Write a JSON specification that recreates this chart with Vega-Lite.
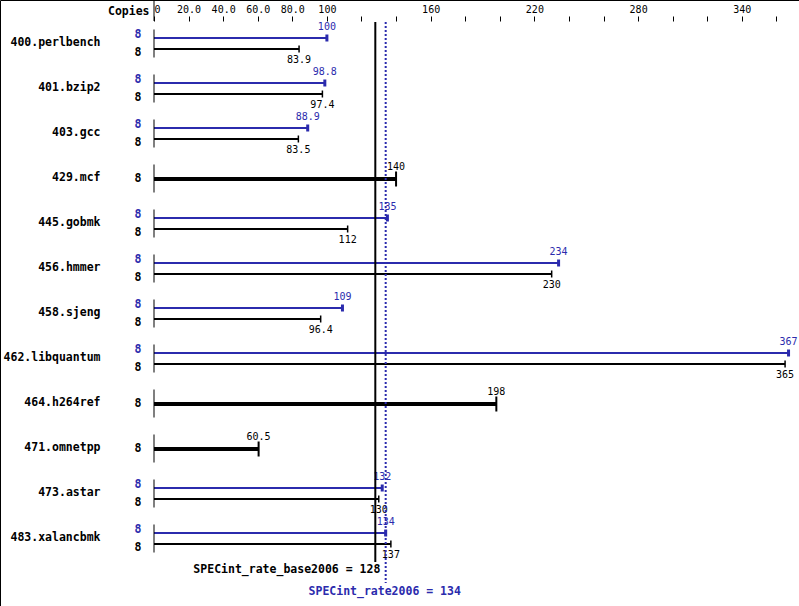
{
  "$schema": "https://vega.github.io/schema/vega-lite/v6.json",
  "width": 799,
  "height": 606,
  "autosize": "none",
  "padding": 0,
  "background": "white",
  "config": {
    "view": {"stroke": "black", "strokeWidth": 1},
    "font": "DejaVu Sans Mono",
    "axis": {"labelOverlap": false, "labelSeparation": -40},
    "axisX": {"labelOverlap": false, "labelSeparation": -40}
  },
  "datasets": {
    "bench": [
      {"bench": "400.perlbench", "base": 83.9, "peak": 100, "single": false, "baseCopies": 8, "peakCopies": 8},
      {"bench": "401.bzip2", "base": 97.4, "peak": 98.8, "single": false, "baseCopies": 8, "peakCopies": 8},
      {"bench": "403.gcc", "base": 83.5, "peak": 88.9, "single": false, "baseCopies": 8, "peakCopies": 8},
      {"bench": "429.mcf", "base": 140, "peak": null, "single": true, "baseCopies": 8, "peakCopies": null},
      {"bench": "445.gobmk", "base": 112, "peak": 135, "single": false, "baseCopies": 8, "peakCopies": 8},
      {"bench": "456.hmmer", "base": 230, "peak": 234, "single": false, "baseCopies": 8, "peakCopies": 8},
      {"bench": "458.sjeng", "base": 96.4, "peak": 109, "single": false, "baseCopies": 8, "peakCopies": 8},
      {"bench": "462.libquantum", "base": 365, "peak": 367, "single": false, "baseCopies": 8, "peakCopies": 8},
      {"bench": "464.h264ref", "base": 198, "peak": null, "single": true, "baseCopies": 8, "peakCopies": null},
      {"bench": "471.omnetpp", "base": 60.5, "peak": null, "single": true, "baseCopies": 8, "peakCopies": null},
      {"bench": "473.astar", "base": 130, "peak": 132, "single": false, "baseCopies": 8, "peakCopies": 8},
      {"bench": "483.xalancbmk", "base": 137, "peak": 134, "single": false, "baseCopies": 8, "peakCopies": 8}
    ],
    "summary": [
      {"metric": "SPECint_rate_base2006", "value": 128, "kind": "base", "top": "400.perlbench", "bottom": "483.xalancbmk"},
      {"metric": "SPECint_rate2006", "value": 134, "kind": "peak", "top": "400.perlbench", "bottom": "483.xalancbmk"}
    ],
    "separator": [
      {"value": 0, "top": "400.perlbench"}
    ]
  },
  "encoding": {
    "y": {
      "field": "bench",
      "type": "nominal",
      "scale": {
        "type": "band",
        "domain": ["400.perlbench", "401.bzip2", "403.gcc", "429.mcf", "445.gobmk", "456.hmmer", "458.sjeng", "462.libquantum", "464.h264ref", "471.omnetpp", "473.astar", "483.xalancbmk"],
        "paddingInner": 0,
        "paddingOuter": 0.73333,
        "align": 0.3106
      },
      "axis": {
        "orient": "left",
        "title": null,
        "ticks": false,
        "domain": false,
        "offset": -100,
        "labelPadding": 0,
        "labelAlign": "right",
        "labelBaseline": "middle",
        "labelFont": "DejaVu Sans Mono",
        "labelFontSize": 11.5,
        "labelFontWeight": "bold",
        "labelColor": "black"
      }
    }
  },
  "layer": [
    {
      "data": {"name": "bench"},
      "transform": [{"filter": "!datum.single"}],
      "mark": {"type": "rule", "color": "#2b2bad", "strokeWidth": 2, "yOffset": -5},
      "encoding": {
        "x": {
          "field": "peak",
          "type": "quantitative",
          "scale": {"domain": [-89.07, 373.05], "nice": false, "zero": false},
          "axis": {
            "orient": "top",
            "offset": -21,
            "domain": false,
            "grid": false,
            "title": "Copies",
            "titleFont": "DejaVu Sans Mono",
            "titleFontSize": 11.5,
            "titleFontWeight": "bold",
            "titleColor": "black",
            "titleAlign": "right",
            "titleBaseline": "alphabetic",
            "titleX": 149,
            "titleY": -7,
            "titleAngle": 0,
            "values": [0,5,10,15,20,25,30,35,40,45,50,55,60,65,70,75,80,85,90,95,100,105,110,115,120,125,130,135,140,145,150,155,160,165,170,175,180,185,190,195,200,205,210,215,220,225,230,235,240,245,250,255,260,265,270,275,280,285,290,295,300,305,310,315,320,325,330,335,340,345,350,355,360,365,370],
            "labelExpr": "datum.value == 0 ? '0' : (datum.value < 100 ? (datum.value % 20 == 0 ? format(datum.value, '.1f') : '') : (((datum.value - 100) % 15 == 0 && datum.value != 355) ? format(datum.value, 'd') : ''))",
            "labelFont": "DejaVu Sans Mono",
            "labelFontSize": 10,
            "labelColor": "black",
            "labelAlign": {"condition": [{"test": "datum.value == 0", "value": "left"}, {"test": "datum.value == 370", "value": "right"}], "value": "center"},
            "labelBaseline": "alphabetic",
            "labelOverlap": false,
            "labelSeparation": -40,
            "labelFlush": false,
            "labelBound": false,
            "tickColor": "black",
            "tickWidth": 1,
            "tickSize": 5,
            "labelPadding": 4
          }
        },
        "x2": {"datum": 0}
      }
    },
    {
      "data": {"name": "separator"},
      "mark": {"type": "rule", "color": "black", "strokeWidth": 1, "yOffset": -44, "y2Offset": -22},
      "encoding": {"x": {"field": "value", "type": "quantitative"}, "y": {"field": "top", "type": "nominal"}, "y2": {"field": "top"}}
    },
    {
      "data": {"name": "bench"},
      "transform": [{"filter": "!datum.single"}],
      "mark": {"type": "rule", "color": "black", "strokeWidth": 2, "yOffset": 6},
      "encoding": {"x": {"field": "base", "type": "quantitative"}, "x2": {"datum": 0}}
    },
    {
      "data": {"name": "bench"},
      "transform": [{"filter": "datum.single"}],
      "mark": {"type": "rule", "color": "black", "strokeWidth": 4, "yOffset": 1},
      "encoding": {"x": {"field": "base", "type": "quantitative"}, "x2": {"datum": 0}}
    },
    {
      "data": {"name": "bench"},
      "mark": {"type": "tick", "orient": "vertical", "color": "black", "size": 28, "thickness": 1, "yOffset": 0.5, "opacity": 1},
      "encoding": {"x": {"datum": 0, "type": "quantitative"}}
    },
    {
      "data": {"name": "bench"},
      "transform": [{"filter": "!datum.single"}],
      "mark": {"type": "tick", "orient": "vertical", "color": "#2b2bad", "size": 7, "thickness": 3, "yOffset": -5, "opacity": 1},
      "encoding": {"x": {"field": "peak", "type": "quantitative"}}
    },
    {
      "data": {"name": "bench"},
      "transform": [{"filter": "!datum.single"}],
      "mark": {"type": "tick", "orient": "vertical", "color": "black", "size": 7, "thickness": 1.5, "yOffset": 6, "opacity": 1},
      "encoding": {"x": {"field": "base", "type": "quantitative"}}
    },
    {
      "data": {"name": "bench"},
      "transform": [{"filter": "datum.single"}],
      "mark": {"type": "tick", "orient": "vertical", "color": "black", "size": 15, "thickness": 2, "yOffset": 1, "opacity": 1},
      "encoding": {"x": {"field": "base", "type": "quantitative"}}
    },
    {
      "data": {"name": "bench"},
      "transform": [{"filter": "!datum.single"}],
      "mark": {"type": "text", "color": "#2b2bad", "fontSize": 10, "font": "DejaVu Sans Mono", "align": "center", "baseline": "middle", "yOffset": -16},
      "encoding": {"x": {"field": "peak", "type": "quantitative"}, "text": {"field": "peak", "type": "quantitative"}}
    },
    {
      "data": {"name": "bench"},
      "transform": [{"filter": "!datum.single"}],
      "mark": {"type": "text", "color": "black", "fontSize": 10, "font": "DejaVu Sans Mono", "align": "center", "baseline": "middle", "yOffset": 17},
      "encoding": {"x": {"field": "base", "type": "quantitative"}, "text": {"field": "base", "type": "quantitative"}}
    },
    {
      "data": {"name": "bench"},
      "transform": [{"filter": "datum.single"}],
      "mark": {"type": "text", "color": "black", "fontSize": 10, "font": "DejaVu Sans Mono", "align": "center", "baseline": "middle", "yOffset": -10.5},
      "encoding": {"x": {"field": "base", "type": "quantitative"}, "text": {"field": "base", "type": "quantitative"}}
    },
    {
      "data": {"name": "bench"},
      "transform": [{"filter": "!datum.single"}],
      "mark": {"type": "text", "color": "#2b2bad", "fontSize": 11.5, "fontWeight": "bold", "font": "DejaVu Sans Mono", "align": "center", "baseline": "middle", "dx": -16, "yOffset": -8},
      "encoding": {"x": {"datum": 0, "type": "quantitative"}, "text": {"field": "peakCopies", "type": "quantitative"}}
    },
    {
      "data": {"name": "bench"},
      "transform": [{"filter": "!datum.single"}],
      "mark": {"type": "text", "color": "black", "fontSize": 11.5, "fontWeight": "bold", "font": "DejaVu Sans Mono", "align": "center", "baseline": "middle", "dx": -16, "yOffset": 10},
      "encoding": {"x": {"datum": 0, "type": "quantitative"}, "text": {"field": "baseCopies", "type": "quantitative"}}
    },
    {
      "data": {"name": "bench"},
      "transform": [{"filter": "datum.single"}],
      "mark": {"type": "text", "color": "black", "fontSize": 11.5, "fontWeight": "bold", "font": "DejaVu Sans Mono", "align": "center", "baseline": "middle", "dx": -16, "yOffset": 1},
      "encoding": {"x": {"datum": 0, "type": "quantitative"}, "text": {"field": "baseCopies", "type": "quantitative"}}
    },
    {
      "data": {"name": "summary"},
      "transform": [{"filter": "datum.kind == 'base'"}],
      "mark": {"type": "rule", "color": "black", "strokeWidth": 2, "yOffset": -21, "y2Offset": 24},
      "encoding": {"x": {"field": "value", "type": "quantitative"}, "y": {"field": "top", "type": "nominal"}, "y2": {"field": "bottom"}}
    },
    {
      "data": {"name": "summary"},
      "transform": [{"filter": "datum.kind == 'peak'"}],
      "mark": {"type": "rule", "color": "#2b2bad", "strokeWidth": 2, "strokeDash": [2, 2], "yOffset": -21, "y2Offset": 45},
      "encoding": {"x": {"field": "value", "type": "quantitative"}, "y": {"field": "top", "type": "nominal"}, "y2": {"field": "bottom"}}
    },
    {
      "data": {"name": "summary"},
      "transform": [{"filter": "datum.kind == 'base'"}, {"calculate": "datum.metric + ' = ' + datum.value", "as": "label"}],
      "mark": {"type": "text", "color": "black", "fontSize": 11.5, "fontWeight": "bold", "font": "DejaVu Sans Mono", "align": "right", "baseline": "middle", "dx": 5, "yOffset": 32},
      "encoding": {"x": {"field": "value", "type": "quantitative"}, "y": {"field": "bottom", "type": "nominal"}, "text": {"field": "label", "type": "nominal"}}
    },
    {
      "data": {"name": "summary"},
      "transform": [{"filter": "datum.kind == 'peak'"}, {"calculate": "datum.metric + ' = ' + datum.value", "as": "label"}],
      "mark": {"type": "text", "color": "#2b2bad", "fontSize": 11.5, "fontWeight": "bold", "font": "DejaVu Sans Mono", "align": "center", "baseline": "middle", "dx": -1, "yOffset": 54},
      "encoding": {"x": {"field": "value", "type": "quantitative"}, "y": {"field": "bottom", "type": "nominal"}, "text": {"field": "label", "type": "nominal"}}
    }
  ]
}
